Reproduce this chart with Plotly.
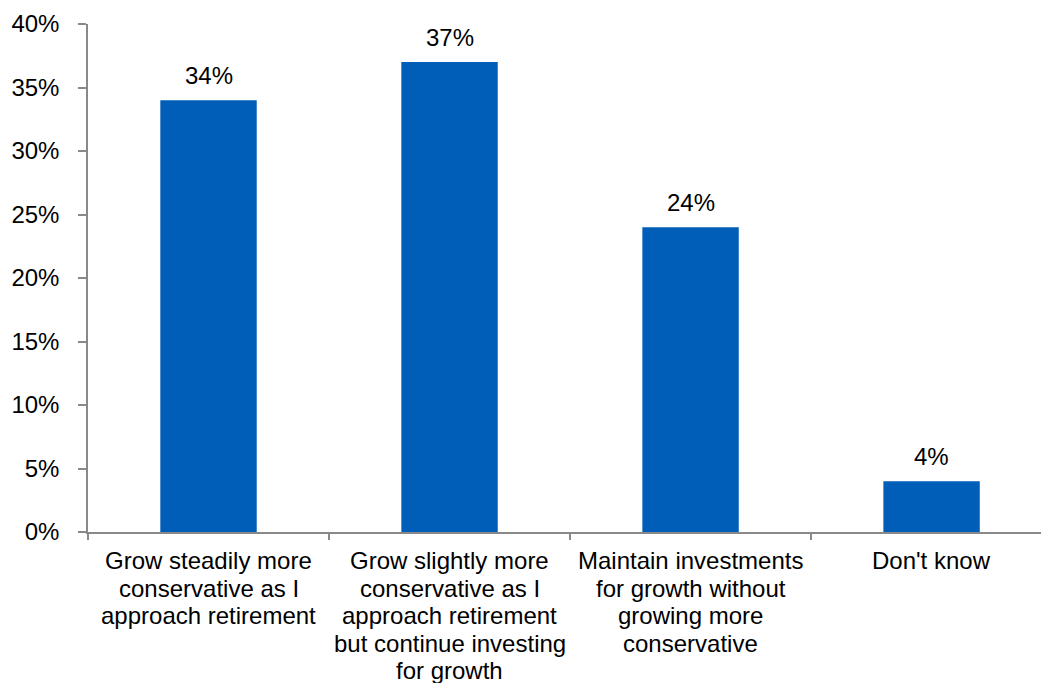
import plotly.graph_objects as go

# Survey responses: how the respondent's investment mix should change
categories = [
    "Grow steadily more<br>conservative as I<br>approach retirement",
    "Grow slightly more<br>conservative as I<br>approach retirement<br>but continue investing<br>for growth",
    "Maintain investments<br>for growth without<br>growing more<br>conservative",
    "Don't know",
]
shares = [34, 37, 24, 4]
y_ticks = [0, 5, 10, 15, 20, 25, 30, 35, 40]
y_tick_labels = [f"{v}%" for v in y_ticks]

BAR_COLOR = "#005EB8"
AXIS_COLOR = "#898989"
FONT = dict(family="Liberation Sans, Arial, sans-serif", size=24, color="#000000")
LABEL_TOP = -13      # px below the x axis where the first label line starts
LINE_STEP = 27.5     # px between wrapped label lines

fig = go.Figure(
    go.Bar(
        x=categories,
        y=shares,
        width=0.4,
        marker=dict(color=BAR_COLOR, line=dict(width=0)),
        hoverinfo="skip",
    )
)

# Value labels sitting above each bar
for cat, val in zip(categories, shares):
    fig.add_annotation(
        x=cat, y=val, text=f"{val}%", showarrow=False,
        xref="x", yref="y", yanchor="bottom", yshift=9,
        font=FONT,
    )

# Category labels, one line at a time for tighter line spacing
for cat in categories:
    for i, line in enumerate(cat.split("<br>")):
        fig.add_annotation(
            x=cat, y=0, text=line, showarrow=False,
            xref="x", yref="paper", yanchor="top", xanchor="center",
            yshift=LABEL_TOP - LINE_STEP * i,
            font=FONT,
        )

fig.update_layout(
    width=1041,
    height=683,
    margin=dict(l=88, r=0, t=24, b=151),
    paper_bgcolor="white",
    plot_bgcolor="white",
    showlegend=False,
    font=FONT,
    bargap=0.6,
)

fig.update_xaxes(
    type="category",
    range=[-0.5, 3.454],
    showline=True, linecolor=AXIS_COLOR, linewidth=1.5,
    ticks="outside", tickson="boundaries", ticklen=6,
    tickcolor=AXIS_COLOR, tickwidth=1.5,
    showgrid=False, showticklabels=False, automargin=False,
)
fig.update_yaxes(
    range=[0, 40],
    tickvals=y_ticks, ticktext=y_tick_labels,
    showline=True, linecolor=AXIS_COLOR, linewidth=1.5,
    ticks="outside", ticklen=8, tickcolor=AXIS_COLOR, tickwidth=1.5,
    showgrid=False, zeroline=False, tickfont=FONT,
    ticklabelstandoff=14, automargin=False,
)

fig.write_html("out.html")
